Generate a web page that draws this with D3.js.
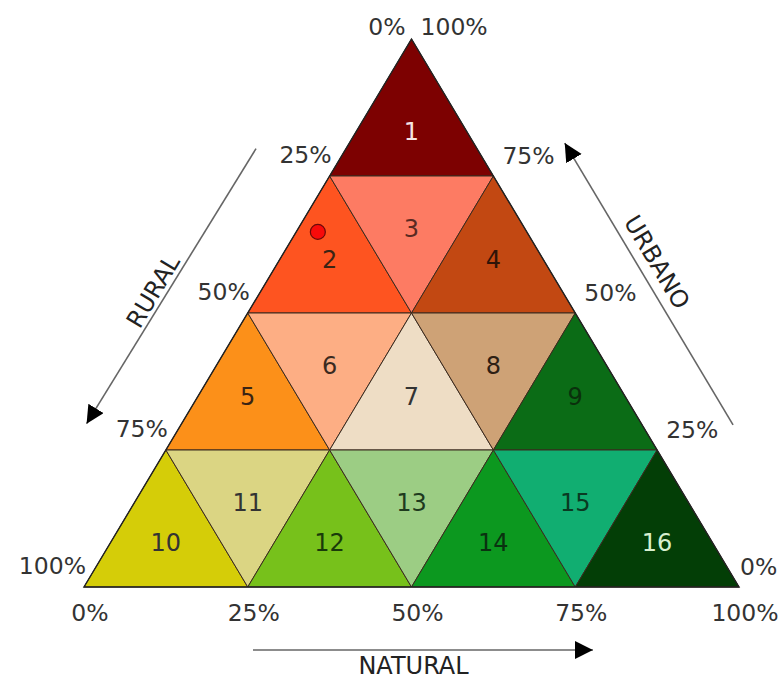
<!doctype html>
<html lang="es">
  <head>
    <meta charset="utf-8">
    <script src="https://d3js.org/d3.v7.min.js"></script>
    <title>Triángulo rural - urbano - natural</title>
    <style>
      body { margin: 0; background: #fff; }
      text { font-family: "DejaVu Sans", Verdana, sans-serif; }
      .cell { stroke: #3b2a1e; stroke-width: 1; stroke-linejoin: round; }
      .frame { fill: none; stroke: #222; stroke-width: 1.4; stroke-linejoin: miter; }
      .tick { font-size: 23.5px; fill: #333; }
      .cell-label { font-size: 24px; }
      .axis-name { font-size: 24px; fill: #222; }
      .arrow { stroke: #666; stroke-width: 1.6; fill: none; }
    </style>
  </head>
  <body>
    <svg width="783" height="680"></svg>

    <script>
      // cells are listed row by row from the top, alternating up / down triangles
      const cellLabels = ["1", "2", "3", "4", "5", "6", "7", "8", "9",
                          "10", "11", "12", "13", "14", "15", "16"];
      const cellColors = ["#7d0101", "#fe5420", "#fd7b63", "#c24812",
                          "#fc9019", "#fdae84", "#eeddc5", "#cea276", "#0b6c16",
                          "#d5cd08", "#dbd583", "#77c11b", "#9ccd84", "#0c981f", "#11ae71", "#033e06"];
      const labelColors = ["#f6e4e4", "#3a2414", "#5a2a22", "#2e1408",
                           "#3a2414", "#3a2a20", "#333", "#2e2014", "#0a300c",
                           "#333", "#333", "#1a3a0a", "#1e3a1e", "#0a3210", "#0a3a22", "#d8f0d0"];

      const tickValues = [0, 0.25, 0.5, 0.75, 1];
      const tickLabels = ["0%", "25%", "50%", "75%", "100%"];
      const axisNames = ["RURAL", "URBANO", "NATURAL"];

      // the red sample point (urban / natural shares, rural is the rest)
      const pointUrban = [0.648];
      const pointNatural = [0.033];

      const svg = d3.select("svg");

      // natural share runs along the base, urban share up the height
      const x = d3.scaleLinear().domain([0, 1]).range([84, 739]);
      const y = d3.scaleLinear().domain([0, 1]).range([587, 39]);

      function pt(u, n) {
        return [x(n + u / 2), y(u)];
      }

      // grid node: row i from the top, position j in that row (4 divisions)
      function node(i, j) {
        return pt(1 - i / 4, j / 4);
      }

      const cells = cellLabels.map((label, c) => {
        const r = Math.floor(Math.sqrt(c));
        const m = c - r * r;
        const up = m % 2 === 0;
        const k = Math.floor(m / 2);
        const pts = up
          ? [node(r, k), node(r + 1, k), node(r + 1, k + 1)]
          : [node(r, k), node(r, k + 1), node(r + 1, k + 1)];
        return { label, up, row: r, pts, color: cellColors[c], text: labelColors[c] };
      });

      svg.append("g")
        .selectAll("path")
        .data(cells)
        .enter().append("path")
        .attr("class", "cell")
        .attr("fill", d => d.color)
        .attr("d", d => "M" + d.pts.join("L") + "Z");

      svg.append("path")
        .attr("class", "frame")
        .attr("d", "M" + [pt(1, 0), pt(0, 0), pt(0, 1)].join("L") + "Z");

      svg.append("g")
        .selectAll("text")
        .data(cells)
        .enter().append("text")
        .attr("class", "cell-label")
        .attr("text-anchor", "middle")
        .attr("fill", d => d.text)
        .attr("x", d => d3.mean(d.pts, p => p[0]))
        .attr("y", d => d3.mean(d.pts, p => p[1]) + (d.up ? (d.row === 0 || d.row === 3 ? 1 : -8) : 7))
        .attr("dy", "0.36em")
        .text(d => d.label);

      // tick labels
      const ticks = svg.append("g").attr("class", "tick");

      // left side: rural share, 0% at the apex down to 100% at bottom-left
      ticks.selectAll(".left")
        .data(tickValues)
        .enter().append("text")
        .attr("class", "left")
        .attr("text-anchor", "end")
        .attr("x", (d) => pt(1 - d, 0)[0] + (d === 0 ? -6 : 2))
        .attr("y", (d) => pt(1 - d, 0)[1] + (d === 0 ? -4 : -13))
        .text((d, i) => tickLabels[i]);

      // right side: urban share, 0% at bottom-right up to 100% at the apex
      ticks.selectAll(".right")
        .data(tickValues)
        .enter().append("text")
        .attr("class", "right")
        .attr("text-anchor", "start")
        .attr("x", (d) => pt(d, 1 - d)[0] + (d === 0 ? 1 : 9))
        .attr("y", (d) => pt(d, 1 - d)[1] + (d === 1 ? -4 : -12))
        .text((d, i) => tickLabels[i]);

      // bottom: natural share
      ticks.selectAll(".bottom")
        .data(tickValues)
        .enter().append("text")
        .attr("class", "bottom")
        .attr("text-anchor", "middle")
        .attr("x", d => pt(0, d)[0] + 6)
        .attr("y", d => pt(0, d)[1] + 34)
        .text((d, i) => tickLabels[i]);

      // arrows
      svg.append("defs").append("marker")
        .attr("id", "head")
        .attr("markerUnits", "userSpaceOnUse")
        .attr("markerWidth", 20)
        .attr("markerHeight", 20)
        .attr("refX", 18)
        .attr("refY", 9)
        .attr("orient", "auto")
        .append("path")
        .attr("d", "M0,0L18,9L0,18Z")
        .attr("fill", "#000");

      const shift = (p, dx, dy) => [p[0] + dx, p[1] + dy];
      const arrows = [
        [shift(pt(0.8, 0), -90, 0), shift(pt(0.298, 0), -95, 0)],
        [shift(pt(0.296, 0.704), 91, 0), shift(pt(0.81, 0.19), 91, 0)],
        [shift(pt(0, 0.258), 0, 63), shift(pt(0, 0.777), 0, 63)]
      ];

      svg.append("g")
        .selectAll("line")
        .data(arrows)
        .enter().append("line")
        .attr("class", "arrow")
        .attr("x1", d => d[0][0])
        .attr("y1", d => d[0][1])
        .attr("x2", d => d[1][0])
        .attr("y2", d => d[1][1])
        .attr("marker-end", "url(#head)");

      // axis names, rotated to follow their sides
      const edgeAngle = Math.atan2(y(1) - y(0), x(0.5) - x(0)) * 180 / Math.PI;
      const namePos = [
        { p: shift(pt(0.5, 0), -95, -22), a: edgeAngle },
        { p: shift(pt(0.5, 0.5), 82, -51), a: -edgeAngle },
        { p: shift(pt(0, 0.5), 2, 78), a: 0 }
      ];

      svg.append("g")
        .selectAll("text")
        .data(axisNames)
        .enter().append("text")
        .attr("class", "axis-name")
        .attr("text-anchor", "middle")
        .attr("dy", "0.36em")
        .attr("transform", (d, i) =>
          `translate(${namePos[i].p[0]},${namePos[i].p[1]}) rotate(${namePos[i].a})`)
        .text(d => d);

      // sample point
      svg.append("g")
        .selectAll("circle")
        .data(pointUrban)
        .enter().append("circle")
        .attr("cx", (d, i) => pt(d, pointNatural[i])[0])
        .attr("cy", (d, i) => pt(d, pointNatural[i])[1])
        .attr("r", 7.5)
        .attr("fill", "#f80a0a")
        .attr("stroke", "#6a0a0a")
        .attr("stroke-width", 1.2);
    </script>
  </body>
</html>
